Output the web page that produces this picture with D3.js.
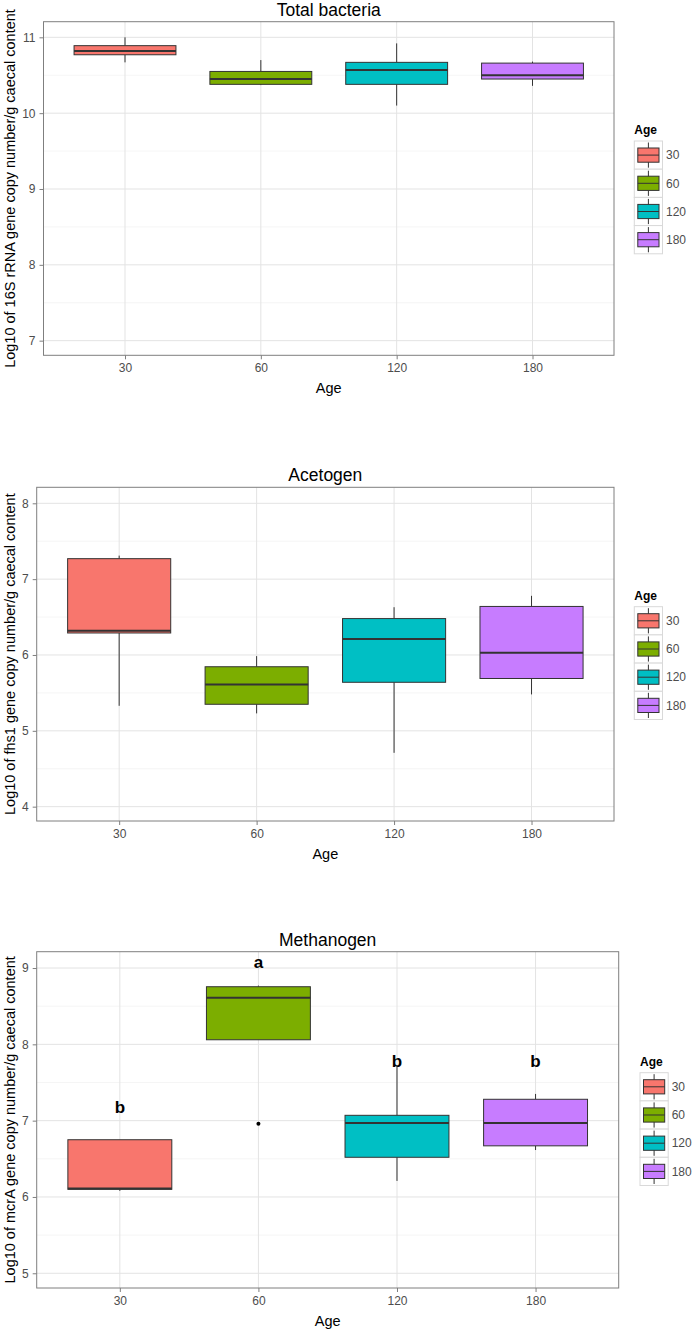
<!DOCTYPE html>
<html><head><meta charset="utf-8">
<script src="https://cdn.jsdelivr.net/npm/d3@7"></script>
<style>
body{margin:0;background:#fff;}
svg{display:block;font-family:"Liberation Sans",Arial,sans-serif;}
</style></head>
<body>
<script>
// ---- data ----
const ages = ["30", "60", "120", "180"];
const ageColors = ["#F8766D", "#7CAE00", "#00BFC4", "#C77CFF"];
// [lower whisker, Q1, median, Q3, upper whisker]
const totalBacteria = [
  [10.67, 10.77, 10.82, 10.89, 11.00],
  [10.37, 10.38, 10.45, 10.55, 10.70],
  [10.10, 10.38, 10.57, 10.67, 10.92],
  [10.36, 10.45, 10.50, 10.66, 10.68]
];
const acetogen = [
  [5.33, 6.29, 6.32, 7.27, 7.31],
  [5.23, 5.35, 5.61, 5.845, 5.985],
  [4.71, 5.64, 6.21, 6.48, 6.63],
  [5.48, 5.69, 6.03, 6.64, 6.78]
];
const methanogen = [
  [6.08, 6.10, 6.11, 6.75, 6.75],
  [8.06, 8.06, 8.61, 8.755, 8.77],
  [6.21, 6.52, 6.97, 7.07, 7.71],
  [6.615, 6.67, 6.97, 7.28, 7.35]
];
const methanogenOutliers = [[], [6.96], [], []];
const methanogenLetters = ["b", "a", "b", "b"];
const methanogenLetterY = [7.18, 9.08, 7.78, 7.78];

const totalTicks = [7, 8, 9, 10, 11];
const acetogenTicks = [4, 5, 6, 7, 8];
const methanogenTicks = [5, 6, 7, 8, 9];

// ---- drawing ----
const W = 697, H = 1332;
const svg = d3.select("body").append("svg").attr("width", W).attr("height", H);

function panel(opt) {
  const g = svg.append("g");
  const {left, right, top, bottom} = opt;
  const x = d3.scalePoint().domain(ages).range([left, right]).padding(0.6);
  const y = d3.scaleLinear().domain(opt.domain).range([bottom, top]);
  const step = x.step();
  const bw = step * 0.75;

  // grid minor
  const minors = opt.ticks.slice(0, -1).map(t => t + 0.5);
  minors.push(opt.ticks[0] - 0.5 >= opt.domain[0] ? opt.ticks[0] - 0.5 : null);
  minors.push(opt.ticks[opt.ticks.length - 1] + 0.5 <= opt.domain[1] ? opt.ticks[opt.ticks.length - 1] + 0.5 : null);
  g.selectAll(".minor").data(minors.filter(d => d !== null)).join("line")
    .attr("x1", left).attr("x2", right)
    .attr("y1", d => y(d)).attr("y2", d => y(d))
    .attr("stroke", "#f2f2f2").attr("stroke-width", 0.8);
  g.selectAll(".hmaj").data(opt.ticks).join("line")
    .attr("x1", left).attr("x2", right)
    .attr("y1", d => y(d)).attr("y2", d => y(d))
    .attr("stroke", "#e3e3e3").attr("stroke-width", 1);
  g.selectAll(".vmaj").data(ages).join("line")
    .attr("x1", d => x(d)).attr("x2", d => x(d))
    .attr("y1", top).attr("y2", bottom)
    .attr("stroke", "#e3e3e3").attr("stroke-width", 1);

  // boxes
  opt.stats.forEach((s, i) => {
    const cx = x(ages[i]);
    const col = ageColors[i];
    g.append("line").attr("x1", cx).attr("x2", cx).attr("y1", y(s[4])).attr("y2", y(s[3]))
      .attr("stroke", "#333").attr("stroke-width", 1);
    g.append("line").attr("x1", cx).attr("x2", cx).attr("y1", y(s[1])).attr("y2", y(s[0]))
      .attr("stroke", "#333").attr("stroke-width", 1);
    g.append("rect").attr("x", cx - bw / 2).attr("width", bw)
      .attr("y", y(s[3])).attr("height", Math.max(0.5, y(s[1]) - y(s[3])))
      .attr("fill", col).attr("stroke", "#333").attr("stroke-width", 1);
    g.append("line").attr("x1", cx - bw / 2).attr("x2", cx + bw / 2)
      .attr("y1", y(s[2])).attr("y2", y(s[2]))
      .attr("stroke", "#333").attr("stroke-width", 2);
    if (opt.outliers) {
      opt.outliers[i].forEach(v => {
        g.append("circle").attr("cx", cx).attr("cy", y(v)).attr("r", 2).attr("fill", "#000");
      });
    }
    if (opt.letters) {
      g.append("text").attr("x", cx).attr("y", y(opt.letterY[i]))
        .attr("dy", "0.35em").attr("text-anchor", "middle")
        .attr("font-weight", "bold").attr("font-size", 17).attr("fill", "#000")
        .text(opt.letters[i]);
    }
  });

  // border
  g.append("rect").attr("x", left).attr("y", top).attr("width", right - left).attr("height", bottom - top)
    .attr("fill", "none").attr("stroke", "#7f7f7f").attr("stroke-width", 1);

  // axes
  const ya = g.append("g").attr("transform", `translate(${left},0)`)
    .call(d3.axisLeft(y).tickValues(opt.ticks).tickSize(4).tickPadding(4).tickFormat(d3.format("d")));
  ya.select(".domain").remove();
  ya.selectAll("line").attr("stroke", "#7f7f7f");
  ya.selectAll("text").attr("font-size", 12).attr("fill", "#4d4d4d").attr("font-family", "Liberation Sans, Arial, sans-serif");
  const xa = g.append("g").attr("transform", `translate(0,${bottom})`)
    .call(d3.axisBottom(x).tickSize(4).tickPadding(4));
  xa.select(".domain").remove();
  xa.selectAll("line").attr("stroke", "#7f7f7f");
  xa.selectAll("text").attr("font-size", 12).attr("fill", "#4d4d4d").attr("font-family", "Liberation Sans, Arial, sans-serif");

  // titles
  g.append("text").attr("x", (left + right) / 2).attr("y", top - 6)
    .attr("text-anchor", "middle").attr("font-size", 17.5).attr("fill", "#000").text(opt.title);
  g.append("text").attr("x", (left + right) / 2).attr("y", bottom + 33).attr("dy", "0.35em")
    .attr("text-anchor", "middle").attr("font-size", 14.5).attr("fill", "#000").text("Age");
  g.append("text").attr("transform", `translate(10,${(top + bottom) / 2}) rotate(-90)`)
    .attr("dy", "0.35em").attr("text-anchor", "middle").attr("font-size", 14.5).attr("fill", "#000")
    .text(opt.ylabel);

  // legend
  const lg = g.append("g").attr("transform", `translate(${opt.legX},${opt.legY})`);
  lg.append("text").attr("x", 0).attr("y", 0).attr("dy", "0.35em")
    .attr("font-weight", "bold").attr("font-size", 12).attr("fill", "#000").text("Age");
  const ks = 28.2;
  ages.forEach((a, i) => {
    const ky = 11 + i * ks;
    lg.append("rect").attr("x", 0).attr("y", ky).attr("width", ks).attr("height", ks)
      .attr("fill", "#fff").attr("stroke", "#d9d9d9").attr("stroke-width", 1);
    const cx = ks / 2;
    lg.append("line").attr("x1", cx).attr("x2", cx).attr("y1", ky + 1.5).attr("y2", ky + ks - 1.5)
      .attr("stroke", "#333").attr("stroke-width", 1);
    lg.append("rect").attr("x", 3.5).attr("y", ky + 7).attr("width", ks - 7).attr("height", ks - 14)
      .attr("fill", ageColors[i]).attr("stroke", "#333").attr("stroke-width", 1);
    lg.append("line").attr("x1", 3.5).attr("x2", ks - 3.5).attr("y1", ky + ks / 2).attr("y2", ky + ks / 2)
      .attr("stroke", "#333").attr("stroke-width", 1);
    lg.append("text").attr("x", ks + 3.5).attr("y", ky + ks / 2).attr("dy", "0.35em")
      .attr("font-size", 12).attr("fill", "#4d4d4d").text(a);
  });
}

panel({left: 43.5, right: 614, top: 21.7, bottom: 355.3, domain: [6.807, 11.206], ticks: totalTicks,
  stats: totalBacteria, title: "Total bacteria",
  ylabel: "Log10 of 16S rRNA gene copy number/g caecal content", legX: 634.3, legY: 130});
panel({left: 36.7, right: 614, top: 487.3, bottom: 821, domain: [3.811, 8.211], ticks: acetogenTicks,
  stats: acetogen, title: "Acetogen",
  ylabel: "Log10 of fhs1 gene copy number/g caecal content", legX: 634.3, legY: 595.7});
panel({left: 36.7, right: 618.7, top: 951.7, bottom: 1288, domain: [4.807, 9.214], ticks: methanogenTicks,
  stats: methanogen, outliers: methanogenOutliers, letters: methanogenLetters, letterY: methanogenLetterY,
  title: "Methanogen",
  ylabel: "Log10 of mcrA gene copy number/g caecal content", legX: 640, legY: 1061.7});
</script>
</body></html>
